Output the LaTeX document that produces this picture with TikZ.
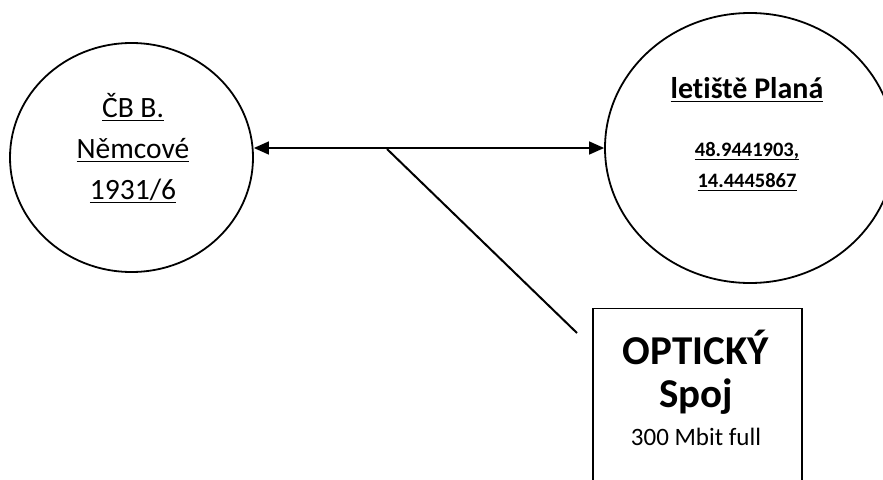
\documentclass[tikz,border=0pt]{standalone}
\usepackage{fontspec}
\setmainfont{Carlito}[Ligatures=NoCommon]
\usetikzlibrary{shapes.geometric, arrows.meta}

% underline with a fixed depth below the baseline
\newcommand{\podtrh}[1]{\setbox0\hbox{#1}\rlap{\rule[-4pt]{\wd0}{1.3pt}}\box0}

\tikzset{
	misto/.style={draw, ellipse, line width=1.8pt, inner sep=0pt},
	spojka/.style={line width=1.4pt, {Triangle[length=15pt,width=13pt]}-{Triangle[length=15pt,width=13pt]}},
	vetev/.style={line width=2pt},
	popis/.style={draw, rectangle, line width=1.4pt, minimum width=209pt, minimum height=200pt, anchor=north}
}

\begin{document}
\begin{tikzpicture}[x=1pt, y=-1pt]

	\useasboundingbox (0,0) rectangle (883,479);
	\clip (0,0) rectangle (883,479);

	% Places (ellipses)

	\node[misto, minimum width=243pt, minimum height=229pt] (cb) at (131.5, 157.5) {};
	\node[misto, minimum width=290pt, minimum height=270pt] (letiste) at (750, 148) {};

	% Texts of places (base = last line)
	\node[align=center, anchor=base, font=\fontsize{29.5pt}{41pt}\selectfont] (cbtxt) at (133, 199)
		{\podtrh{ČB B.}\\\podtrh{Němcové}\\\podtrh{1931/6}};
	\node[anchor=base, font=\fontsize{30pt}{35pt}\selectfont\bfseries] (letistetxt) at (747, 98)
		{\podtrh{letiště Planá}};
	\node[align=center, anchor=base, font=\fontsize{20.5pt}{31pt}\selectfont\bfseries] (gps) at (747, 187)
		{\podtrh{48.9441903,}\\\podtrh{14.4445867}};

	% Link between places
	\draw[spojka] (cb.east |- letiste.west) -- (letiste.west);

	% Label box and its pointer
	\node[popis] (spoj) at (697.5, 308) {};
	\node[align=center, anchor=base, font=\fontsize{41pt}{43pt}\selectfont] (spojtxt) at (696, 445)
		{\textbf{OPTICKÝ}\\\textbf{Spoj}\\[-5pt]{\fontsize{25pt}{30pt}\selectfont 300 Mbit full}};

	\coordinate (odbocka) at (387, 149);
	\coordinate (konec) at (577, 333);
	\draw[vetev] (odbocka) -- (konec);
\end{tikzpicture}
\end{document}
